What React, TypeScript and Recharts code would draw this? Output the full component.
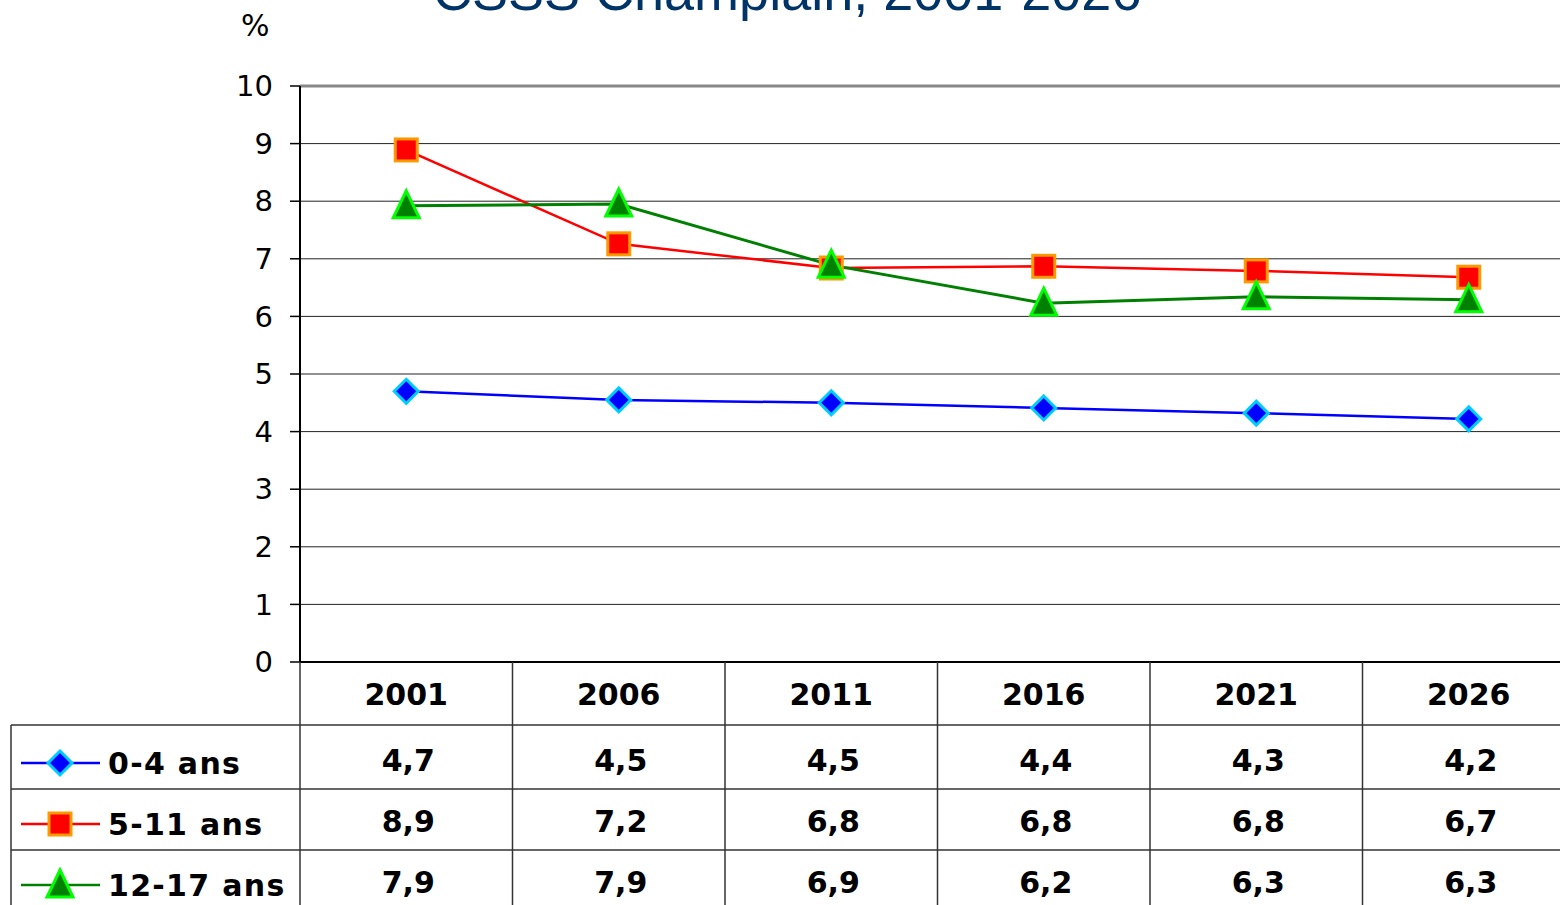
import React from 'react'
import { CartesianGrid, Line, LineChart, ReferenceLine, XAxis, YAxis } from 'recharts'

const years = ['2001', '2006', '2011', '2016', '2021', '2026']
const age04 = [4.7, 4.55, 4.5, 4.41, 4.32, 4.22]
const age511 = [8.89, 7.26, 6.84, 6.87, 6.79, 6.68]
const age1217 = [7.92, 7.95, 6.89, 6.23, 6.34, 6.29]
const tableLabels04 = ['4,7', '4,5', '4,5', '4,4', '4,3', '4,2']
const tableLabels511 = ['8,9', '7,2', '6,8', '6,8', '6,8', '6,7']
const tableLabels1217 = ['7,9', '7,9', '6,9', '6,2', '6,3', '6,3']
const yTicks = [0, 1, 2, 3, 4, 5, 6, 7, 8, 9, 10]

const data = years.map((year, i) => ({
    year,
    a: age04[i],
    b: age511[i],
    c: age1217[i],
}))

const FONT = '"DejaVu Sans", Verdana, sans-serif'
const W = 1580
const H = 905
const PLOT_LEFT = 300
const PLOT_TOP = 86
const PLOT_BOTTOM = 662
const PLOT_RIGHT = 1575
const BAND = (PLOT_RIGHT - PLOT_LEFT) / years.length

type Kind = 'diamond' | 'square' | 'triangle'

const Marker = ({ kind, cx, cy }: { kind: Kind, cx: number, cy: number }) => {
    if (kind === 'diamond') {
        return <polygon points={`${cx},${cy - 12} ${cx + 12},${cy} ${cx},${cy + 12} ${cx - 12},${cy}`} fill='#0000ff' stroke='#00ccff' strokeWidth={3} />
    }
    if (kind === 'square') {
        return <rect x={cx - 11} y={cy - 11} width={22} height={22} fill='#ff0000' stroke='#ff9900' strokeWidth={3} />
    }
    return <polygon points={`${cx},${cy - 15} ${cx + 13},${cy + 12} ${cx - 13},${cy + 12}`} fill='#008000' stroke='#00ff00' strokeWidth={3} />
}

const dotFor = (kind: Kind) => (props: any) => {
    const { cx, cy, index } = props
    if (cx == null || cy == null) return <g key={index} />
    return <Marker key={`${kind}-${index}`} kind={kind} cx={cx} cy={cy} />
}

const YearTick = (props: any) => {
    const { x, y, payload } = props
    return (
        <text x={x} y={y + 32} textAnchor='middle' dominantBaseline='central' fontFamily={FONT} fontWeight='bold' fontSize={30} fill='#000'>
            {payload.value}
        </text>
    )
}

const rows: { name: string, kind: Kind, color: string, labels: string[] }[] = [
    { name: '0-4 ans', kind: 'diamond', color: '#0000ff', labels: tableLabels04 },
    { name: '5-11 ans', kind: 'square', color: '#ff0000', labels: tableLabels511 },
    { name: '12-17 ans', kind: 'triangle', color: '#008000', labels: tableLabels1217 },
]

const rowLines = [725, 789, 850, 911]
const rowCenters = [760, 821, 882]

const DataTable = () => {
    const colEdges = years.map((_, i) => PLOT_LEFT + BAND * (i + 1))
    return (
        <svg width={W} height={H} style={{ position: 'absolute', left: 0, top: 0, pointerEvents: 'none' }}>
            {rowLines.map((y) => (
                <line key={y} x1={11} x2={W} y1={y} y2={y} stroke='#333' strokeWidth={1.5} />
            ))}
            <line x1={11} x2={11} y1={725} y2={H} stroke='#333' strokeWidth={1.5} />
            <line x1={PLOT_LEFT} x2={PLOT_LEFT} y1={PLOT_BOTTOM} y2={H} stroke='#333' strokeWidth={1.5} />
            {colEdges.map((x) => (
                <line key={x} x1={x} x2={x} y1={PLOT_BOTTOM} y2={H} stroke='#333' strokeWidth={1.5} />
            ))}
            {rows.map((row, r) => {
                const cy = rowCenters[r]
                return (
                    <g key={row.name}>
                        <line x1={21} x2={100} y1={cy + 3} y2={cy + 3} stroke={row.color} strokeWidth={2.5} />
                        <Marker kind={row.kind} cx={60} cy={cy + 3} />
                        <text x={108} y={cy + 3} dominantBaseline='central' fontFamily={FONT} fontWeight='bold' fontSize={30} letterSpacing={1.3} fill='#000'>{row.name}</text>
                        {row.labels.map((lab, i) => (
                            <text key={i} x={PLOT_LEFT + BAND * (i + 0.5) + 2} y={cy} textAnchor='middle' dominantBaseline='central' fontFamily={FONT} fontWeight='bold' fontSize={30} fill='#000'>{lab}</text>
                        ))}
                    </g>
                )
            })}
        </svg>
    )
}

export default function App() {
    return (
        <div style={{ position: 'relative', width: 1560, height: H, overflow: 'hidden', background: '#fff' }}>
            <style>{'body{margin:0;overflow:hidden}'}</style>
            <div style={{ position: 'absolute', left: 433, top: -36, fontFamily: '"Liberation Sans", Arial, sans-serif', fontSize: 54, lineHeight: 1, color: '#003366', whiteSpace: 'nowrap' }}>
                CSSS Champlain, 2001-2026
            </div>
            <div style={{ position: 'absolute', left: 241, top: 8, fontFamily: FONT, fontSize: 30, color: '#000' }}>%</div>
            <div style={{ position: 'absolute', left: 0, top: 0 }}>
                <LineChart
                    width={W}
                    height={H}
                    data={data}
                    margin={{ top: PLOT_TOP, right: W - PLOT_RIGHT, left: PLOT_LEFT - 80, bottom: H - PLOT_BOTTOM - 63 }}
                >
                    <CartesianGrid vertical={false} stroke='#222' strokeWidth={1} />
                    <XAxis
                        dataKey='year'
                        height={63}
                        padding={{ left: BAND / 2, right: BAND / 2 }}
                        axisLine={{ stroke: '#000', strokeWidth: 2 }}
                        tickLine={false}
                        tickSize={0}
                        tickMargin={0}
                        tick={<YearTick />}
                    />
                    <YAxis
                        width={80}
                        domain={[0, 10]}
                        ticks={yTicks}
                        interval={0}
                        axisLine={{ stroke: '#000', strokeWidth: 2 }}
                        tickLine={{ stroke: '#000', strokeWidth: 1.5 }}
                        tickSize={10}
                        tickMargin={17}
                        tick={{ fill: '#000', fontSize: 29, fontFamily: FONT }}
                    />
                    <ReferenceLine y={10} stroke='#888' strokeWidth={3} />
                    <Line dataKey='a' stroke='#0000ff' strokeWidth={2.5} dot={dotFor('diamond')} isAnimationActive={false} />
                    <Line dataKey='b' stroke='#ff0000' strokeWidth={2.5} dot={dotFor('square')} isAnimationActive={false} />
                    <Line dataKey='c' stroke='#008000' strokeWidth={3} dot={dotFor('triangle')} isAnimationActive={false} />
                </LineChart>
            </div>
            <DataTable />
        </div>
    )
}
